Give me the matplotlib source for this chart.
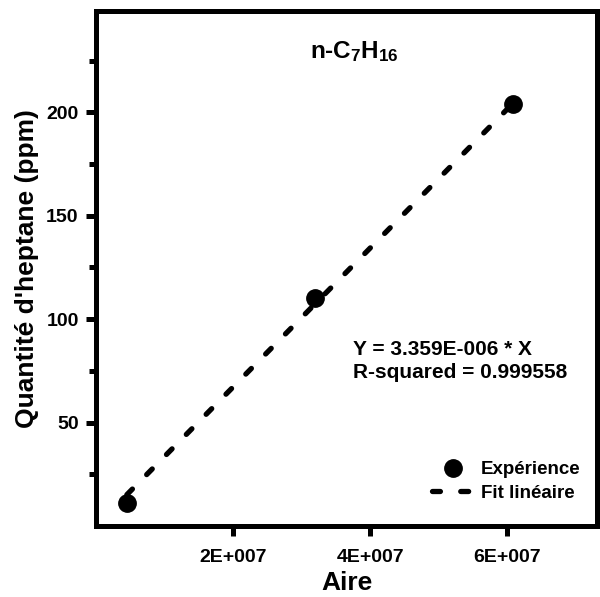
import matplotlib
matplotlib.use("Agg")
import matplotlib.pyplot as plt
import numpy as np

# donnees
aire = [4.5e6, 3.2e7, 6.09e7]
quantite = [11.1, 110.3, 204.0]
pente = 3.359e-6
r2 = 0.999558

xticks = [2e7, 4e7, 6e7]
xticklabels = ["2E+007", "4E+007", "6E+007"]
yticks = [50, 100, 150, 200]
yminor = [25, 75, 125, 175, 225]

plt.rcParams['font.family'] = ['Liberation Sans', 'DejaVu Sans']
plt.rcParams['font.weight'] = 'bold'
plt.rcParams['mathtext.fontset'] = 'custom'
plt.rcParams['mathtext.rm'] = 'Liberation Sans:bold'
plt.rcParams['mathtext.it'] = 'Liberation Sans:bold'
plt.rcParams['mathtext.bf'] = 'Liberation Sans:bold'

fig = plt.figure(figsize=(6, 5.97), dpi=100)
ax = fig.add_axes([0.16, 0.119, 0.835, 0.8626])

ax.plot(aire, quantite, 'o', color='black', markersize=12.5, label='Expérience', zorder=3)

xf = np.array([aire[0], aire[-1]])
ax.plot(xf, pente * xf, color='black', lw=3.8, dashes=(1.5, 3.85),
        dash_capstyle='round', label='Fit linéaire', zorder=2)

ax.set_xlim(0, 7.31e7)
ax.set_ylim(0, 249)
ax.set_xticks(xticks)
ax.set_xticklabels(xticklabels)
ax.set_yticks(yticks)
ax.set_yticks(yminor, minor=True)

for s in ax.spines.values():
    s.set_linewidth(3.6)
ax.tick_params(axis='both', which='major', direction='out', length=7.5, width=3.6,
               labelsize=14, pad=5)
ax.tick_params(axis='x', which='major', pad=9)
ax.tick_params(axis='y', which='minor', direction='out', length=5, width=3.6)
for t in ax.get_xticklabels() + ax.get_yticklabels():
    t.set_fontweight('bold')

ax.set_xlabel('Aire', fontsize=19, fontweight='bold', labelpad=4)
ax.set_ylabel("Quantité d'heptane (ppm)", fontsize=19, fontweight='bold', labelpad=5)

ax.text(0.427, 0.909, 'n-C$_7$H$_{16}$', transform=ax.transAxes, fontsize=17.5,
        fontweight='bold', va='baseline', ha='left')
ax.text(0.513, 0.332, 'Y = 3.359E-006 * X', transform=ax.transAxes, fontsize=15,
        fontweight='bold', va='baseline', ha='left')
ax.text(0.513, 0.287, 'R-squared = %.6f' % r2, transform=ax.transAxes, fontsize=15,
        fontweight='bold', va='baseline', ha='left')

leg = ax.legend(loc='lower right', bbox_to_anchor=(0.99, 0.025), frameon=False,
                fontsize=13.5, numpoints=1, handlelength=2.2, handletextpad=0.4,
                labelspacing=0.35, borderaxespad=0.2)

fig.savefig('out.png', dpi=100)
